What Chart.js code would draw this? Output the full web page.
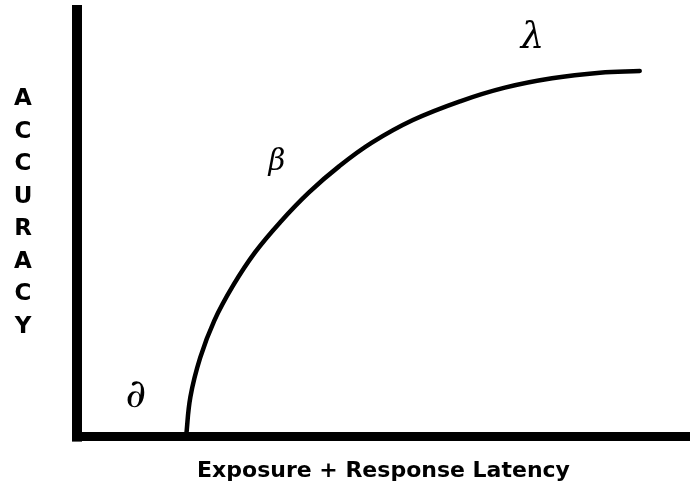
<!DOCTYPE html>
<html>
<head>
<meta charset="utf-8">
<script src="https://cdn.jsdelivr.net/npm/chart.js"></script>
<style>
  html, body { margin: 0; padding: 0; background: #fff; }
  #wrap { position: relative; width: 690px; height: 491px; }
  #yLabel {
    position: absolute; left: 8px; top: 81px; width: 30px;
    font: bold 23px "DejaVu Sans", sans-serif; line-height: 32.5px;
    text-align: center; color: #000;
  }
</style>
</head>
<body>
<div id="wrap">
  <canvas id="chart" width="690" height="491"></canvas>
  <div id="yLabel"></div>
</div>
<script>
// curve (latency 0-100, accuracy 0-100)
const latency  = [17.8, 18.5, 20.1, 22.4, 25.5, 29.1, 33.3, 37.8, 42.8, 48.1, 54.8, 62.5, 69.8, 77.5, 85.3, 91.8];
const accuracy = [0,    9.3,  18.5, 27.2, 35.5, 43.3, 50.5, 57.2, 63.4, 68.9, 74.2, 78.6, 81.8, 84.0, 85.3, 85.7];

// greek markers placed along the curve
const markerText = ['∂', 'β', 'λ'];
const markerX    = [9.6, 32.6, 74.3];
const markerY    = [9.4, 64.3, 93.4];

const xTitle = 'Exposure + Response Latency';
const yTitle = 'ACCURACY';

document.getElementById('yLabel').innerHTML = yTitle.split('').map(c => '<div>' + c + '</div>').join('');

const points = latency.map((x, i) => ({ x: x, y: accuracy[i] }));

const markerPlugin = {
  id: 'markers',
  afterDatasetsDraw(chart) {
    const ctx = chart.ctx;
    const xs = chart.scales.x, ys = chart.scales.y;
    const sizes = [40, 29, 37];
    ctx.save();
    ctx.fillStyle = '#000';
    ctx.textAlign = 'center';
    ctx.textBaseline = 'middle';
    markerText.forEach((t, i) => {
      ctx.font = 'italic ' + sizes[i] + 'px "DejaVu Serif", serif';
      ctx.fillText(t, xs.getPixelForValue(markerX[i]), ys.getPixelForValue(markerY[i]));
    });
    // fill the corner where the two axis lines meet
    ctx.fillRect(xs.left - 5, ys.bottom - 4, 10, 9);
    ctx.restore();
  }
};

new Chart(document.getElementById('chart'), {
  type: 'scatter',
  data: {
    datasets: [{
      data: points,
      showLine: true,
      borderColor: '#000',
      borderWidth: 4.5,
      borderCapStyle: 'round',
      pointRadius: 0,
      tension: 0.4,
      fill: false
    }]
  },
  options: {
    responsive: false,
    animation: false,
    layout: { padding: { left: 77, top: 10, right: 0, bottom: 0 } },
    plugins: { legend: { display: false }, tooltip: { enabled: false } },
    scales: {
      x: {
        type: 'linear', min: 0, max: 100,
        grid: { display: false, drawTicks: false },
        ticks: { display: false },
        border: { display: true, color: '#000', width: 9 },
        title: {
          display: true, text: xTitle, color: '#000',
          font: { family: '"DejaVu Sans", sans-serif', size: 22, weight: 'bold' },
          padding: { top: 21, bottom: 7 }
        }
      },
      y: {
        type: 'linear', min: 0, max: 100,
        grid: { display: false, drawTicks: false },
        ticks: { display: false },
        border: { display: true, color: '#000', width: 10 }
      }
    }
  },
  plugins: [markerPlugin]
});
</script>
</body>
</html>
